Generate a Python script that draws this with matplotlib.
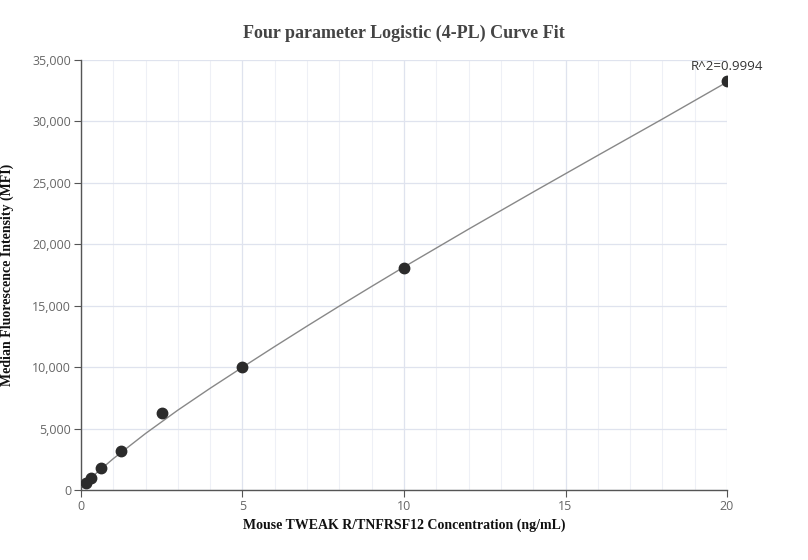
import matplotlib
matplotlib.use("Agg")
import matplotlib.pyplot as plt
from matplotlib.ticker import MultipleLocator, FuncFormatter

# measured standards
conc = [0.156, 0.3125, 0.625, 1.25, 2.5, 5, 10, 20]
mfi = [600, 950, 1750, 3180, 6280, 10000, 18080, 33250]

# fitted curve
curve_x = [0, 1, 2, 2.5, 3, 4, 5, 6, 7, 8, 9, 10, 12, 14, 16, 18, 20]
curve_y = [300, 2550, 4600, 5550, 6500, 8280, 9990, 11680, 13340, 14970,
           16570, 18150, 21230, 24250, 27230, 30190, 33200]

r2_text = "R^2=0.9994"

fig = plt.figure(figsize=(8.08, 5.6), dpi=100)
ax = fig.add_axes([0.1002, 0.125, 0.7996, 0.768])

ax.plot(curve_x, curve_y, color="#888888", lw=1.0, zorder=3)
ax.plot(conc, mfi, "o", color="#2b2b2b", ms=7.5, zorder=4)
ax.annotate(r2_text, (conc[-1], mfi[-1]), xytext=(0, 6), textcoords="offset points",
            ha="center", va="bottom", fontsize=9.5, color="#333333",
            family="Open Sans")

ax.set_xlim(0, 20)
ax.set_ylim(0, 35000)
ax.xaxis.set_major_locator(MultipleLocator(5))
ax.xaxis.set_minor_locator(MultipleLocator(1))
ax.yaxis.set_major_locator(MultipleLocator(5000))
ax.yaxis.set_major_formatter(FuncFormatter(lambda v, p: f"{int(v):,}"))

ax.grid(which="major", color="#dfe3ee", lw=0.9)
ax.grid(which="minor", axis="x", color="#eef0f6", lw=0.8)
ax.set_axisbelow(True)

for s in ["top", "right"]:
    ax.spines[s].set_visible(False)
for s in ["left", "bottom"]:
    ax.spines[s].set_color("#555555")
    ax.spines[s].set_linewidth(1.0)

ax.tick_params(which="major", length=5, color="#555555", labelsize=9,
               labelcolor="#666666", pad=2)
ax.tick_params(which="minor", length=0)
for lab in ax.get_xticklabels() + ax.get_yticklabels():
    lab.set_family("Open Sans")

ax.set_title("Four parameter Logistic (4-PL) Curve Fit", family="Liberation Serif",
             fontweight="bold", fontsize=13, color="#444444", pad=16)
ax.set_xlabel("Mouse TWEAK R/TNFRSF12 Concentration (ng/mL)", family="Liberation Serif",
              fontweight="bold", fontsize=10, color="#111111")
ax.set_ylabel("Median Fluorescence Intensity (MFI)", family="Liberation Serif",
              fontweight="bold", fontsize=10, color="#111111")
ax.xaxis.set_label_coords(0.5, -0.081)
ax.yaxis.set_label_coords(-0.1146, 0.5)
ax.xaxis.label.set_va("center")
ax.yaxis.label.set_va("center")

fig.savefig("out.png", dpi=100)
